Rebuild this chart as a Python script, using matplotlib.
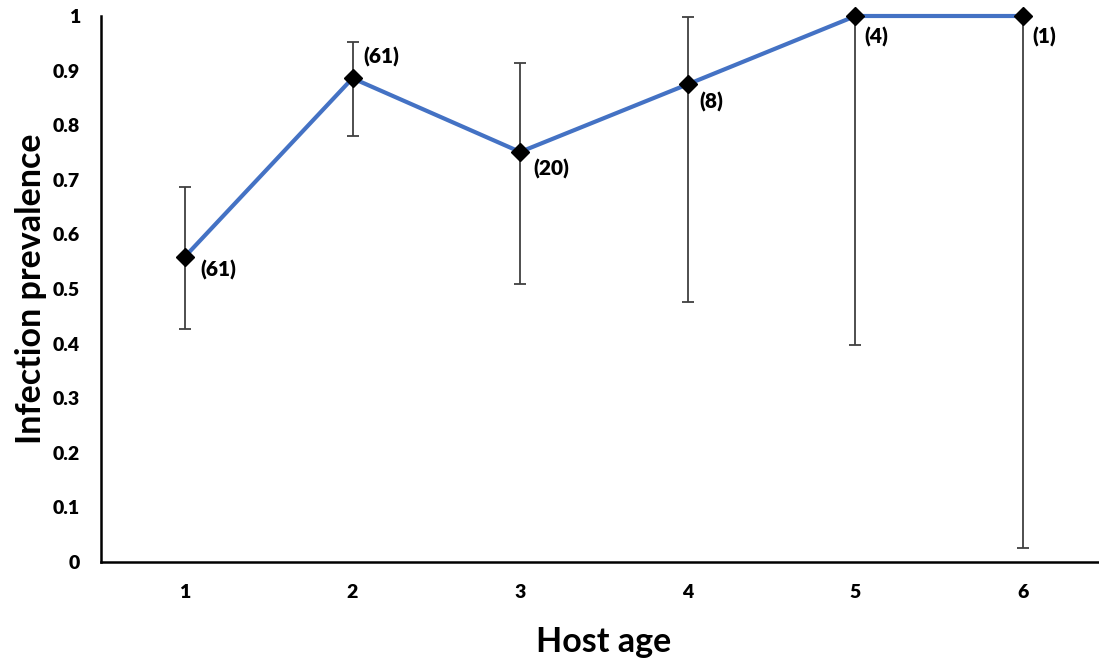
import matplotlib
matplotlib.use("Agg")
import matplotlib.pyplot as plt

ages = [1, 2, 3, 4, 5, 6]
prevalence = [0.559, 0.886, 0.751, 0.875, 1.0, 1.0]
err_upper = [0.687, 0.952, 0.914, 0.998, 1.0, 1.0]
err_lower = [0.427, 0.780, 0.509, 0.476, 0.397, 0.026]
sample_labels = ["(61)", "(61)", "(20)", "(8)", "(4)", "(1)"]
label_offsets = [(11, -9.5), (7.5, 15), (9.5, -12), (8, -12.5), (6.5, -15), (6.5, -15)]
yticks = [0, 0.1, 0.2, 0.3, 0.4, 0.5, 0.6, 0.7, 0.8, 0.9, 1]
ytick_labels = ["0", "0.1", "0.2", "0.3", "0.4", "0.5", "0.6", "0.7", "0.8", "0.9", "1"]

plt.rcParams['font.family'] = ['Lato', 'DejaVu Sans']
plt.rcParams['font.weight'] = 'heavy'

fig = plt.figure(figsize=(10.99, 6.59), dpi=100)
ax = fig.add_axes([101/1099, 1 - 562/659, (1107 - 101)/1099, (562 - 16)/659])

yerr = [[p - l for p, l in zip(prevalence, err_lower)],
        [u - p for p, u in zip(prevalence, err_upper)]]
ax.errorbar(ages, prevalence, yerr=yerr, fmt='none', ecolor='#404040',
            elinewidth=1.3, capsize=4, capthick=1.3, zorder=2, clip_on=False)
ax.plot(ages, prevalence, color='#4472C4', linewidth=3, zorder=3, clip_on=False)
ax.plot(ages, prevalence, linestyle='none', marker='D', markersize=9,
        color='black', zorder=4, clip_on=False)

for x, y, t, (dx, dy) in zip(ages, prevalence, sample_labels, label_offsets):
    ax.annotate(t, (x, y), xytext=(dx, dy), textcoords='offset points',
                ha='left', va='center', fontsize=15, fontweight='heavy')

ax.set_xlim(0.5, 6.5)
ax.set_ylim(0, 1)
ax.set_xticks(ages)
ax.set_xticklabels([str(a) for a in ages])
ax.set_yticks(yticks)
ax.set_yticklabels(ytick_labels)
ax.tick_params(axis='both', length=0, labelsize=14)
ax.tick_params(axis='x', pad=16)
ax.tick_params(axis='y', pad=15)
for lab in ax.get_xticklabels() + ax.get_yticklabels():
    lab.set_fontweight('heavy')

ax.spines['top'].set_visible(False)
ax.spines['right'].set_visible(False)
ax.spines['left'].set_linewidth(1.8)
ax.spines['bottom'].set_linewidth(1.8)

ax.set_xlabel("Host age", fontsize=24.5, fontweight='bold')
ax.set_ylabel("Infection prevalence", fontsize=24.5, fontweight='bold')
ax.xaxis.set_label_coords((604 - 101) / 1006, -(658 - 562) / 546)
ax.xaxis.label.set_va('bottom')
ax.yaxis.set_label_coords((47 - 101) / 1006, 0.5)

fig.savefig("out.png", dpi=100)
